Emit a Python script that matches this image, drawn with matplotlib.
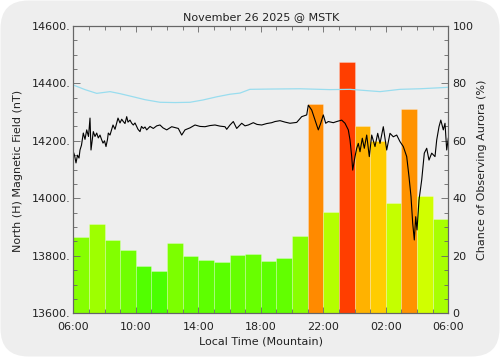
import numpy as np
import matplotlib
matplotlib.use("Agg")
import matplotlib.pyplot as plt
import matplotlib.colors as mcolors
from matplotlib.patches import FancyBboxPatch
from matplotlib.transforms import IdentityTransform

# hours after 06:00 local time
mag_hours = [0.000, 0.077, 0.173, 0.269, 0.365, 0.429, 0.525, 0.640, 0.749, 0.858,
             0.973, 1.069, 1.133, 1.280, 1.389, 1.498, 1.600, 1.709, 1.805, 1.901,
             1.997, 2.093, 2.189, 2.240, 2.349, 2.541, 2.669, 2.861, 2.989, 3.098,
             3.200, 3.309, 3.418, 3.501, 3.629, 3.738, 3.840, 3.949, 4.058, 4.141,
             4.269, 4.365, 4.480, 4.589, 4.698, 4.909, 5.120, 5.338, 5.549, 5.741,
             5.978, 6.298, 6.720, 6.938, 7.149, 7.469, 7.789, 8.109, 8.429, 8.749,
             9.069, 9.389, 9.709, 9.818, 10.029, 10.240, 10.458, 10.778, 10.989, 11.200,
             11.520, 11.757, 12.058, 12.378, 12.698, 12.909, 13.229, 13.549, 13.869, 14.298,
             14.618, 14.938, 15.040, 15.258, 15.469, 15.680, 15.834, 16.000, 16.154, 16.320,
             16.640, 16.858, 17.178, 17.389, 17.600, 17.709, 17.818, 17.882, 18.029, 18.138,
             18.240, 18.349, 18.496, 18.624, 18.778, 18.944, 19.098, 19.309, 19.482, 19.629,
             19.840, 20.058, 20.269, 20.480, 20.698, 20.909, 21.120, 21.338, 21.485, 21.613,
             21.722, 21.824, 21.914, 21.997, 22.125, 22.298, 22.464, 22.618, 22.765, 22.938,
             23.149, 23.258, 23.405, 23.520, 23.680, 23.789, 23.898, 24.000]
mag_nt = [14162, 14150, 14123, 14150, 14140, 14168, 14185, 14227, 14205, 14238,
          14215, 14279, 14168, 14232, 14215, 14227, 14210, 14220, 14205, 14192,
          14200, 14180, 14205, 14227, 14220, 14255, 14240, 14279, 14262, 14275,
          14267, 14260, 14284, 14265, 14272, 14261, 14255, 14262, 14249, 14240,
          14232, 14250, 14243, 14248, 14238, 14250, 14243, 14252, 14255, 14245,
          14238, 14249, 14243, 14220, 14238, 14245, 14255, 14250, 14249, 14253,
          14255, 14251, 14249, 14240, 14255, 14267, 14243, 14261, 14252, 14255,
          14263, 14257, 14255, 14260, 14263, 14267, 14270, 14265, 14261, 14264,
          14284, 14290, 14324, 14307, 14272, 14238, 14261, 14290, 14261, 14267,
          14263, 14267, 14272, 14261, 14238, 14203, 14145, 14098, 14145, 14174,
          14191, 14162, 14209, 14174, 14220, 14145, 14220, 14180, 14226, 14191,
          14249, 14168, 14226, 14214, 14220, 14197, 14180, 14145, 14075, 14006,
          13913, 13855, 13936, 13890, 13994, 14064, 14157, 14174, 14133, 14157,
          14145, 14203, 14249, 14272, 14238, 14261, 14168, 14209]

base_hours = [0, 0.75, 1.50, 2.35, 2.99, 3.84, 4.59, 5.55, 6.51, 7.47, 8.30, 9.18,
              10.03, 10.67, 11.30, 12.58, 14.5, 16.42, 17.71, 18.67, 19.63, 20.91, 22.19, 24]
base_nt = [14394, 14378, 14365, 14371, 14364, 14353, 14343, 14334, 14333, 14334, 14342, 14353,
           14362, 14366, 14379, 14380, 14381, 14378, 14379, 14375, 14371, 14379, 14381, 14386]

# chance of observing aurora, one value per hour
aurora_pct = [26.4, 30.9, 25.4, 22.0, 16.4, 14.6, 24.4, 19.9, 18.4, 17.9, 20.3, 20.7,
              18.1, 19.2, 26.8, 72.7, 35.3, 87.5, 65.2, 59.9, 38.3, 71.2, 40.8, 32.9]

xtick_labels = ["06:00", "10:00", "14:00", "18:00", "22:00", "02:00", "06:00"]

bg = "#eeeeee"
txt = "#222222"
plt.rcParams["font.family"] = "DejaVu Sans"
plt.rcParams["font.size"] = 8

fig = plt.figure(figsize=(5, 3.57), dpi=100, facecolor="white")
fig.add_artist(FancyBboxPatch((0.5, 0.5), 499, 356,
                              boxstyle="round,pad=0,rounding_size=28",
                              transform=IdentityTransform(),
                              facecolor=bg, edgecolor="none", zorder=-10))

ax1 = fig.add_axes([73.3 / 500, 1 - 313.3 / 357, 375 / 500, 287.5 / 357])
ax2 = ax1.twinx()
ax1.set_zorder(2)
ax2.set_zorder(1)
ax1.patch.set_visible(False)
ax2.patch.set_visible(False)

cmap = mcolors.LinearSegmentedColormap.from_list("aur", ["#00ff00", "#ffff00", "#ff0000"])
pct = np.array(aurora_pct)
ax2.bar(np.arange(len(pct)), pct, width=1.0, align="edge",
        color=cmap(pct / 100.0), edgecolor=(1, 1, 1, 0.35), linewidth=0.5)
ax2.set_ylim(0, 100)

ax1.plot(base_hours, base_nt, color="#99ddee", lw=0.9)
ax1.plot(mag_hours, mag_nt, color="black", lw=0.8)
ax1.set_xlim(0, 24)
ax1.set_ylim(13600, 14600)

ax1.set_xticks(np.arange(0, 25, 4))
ax1.set_xticks(np.arange(0, 25, 1), minor=True)
ax1.set_xticklabels(xtick_labels)
ax1.set_yticks(np.arange(13600, 14601, 200))
ax1.set_yticks(np.arange(13600, 14601, 50), minor=True)
ax1.set_yticklabels([f"{v}." for v in range(13600, 14601, 200)])
ax2.set_yticks(np.arange(0, 101, 20))
ax2.set_yticks(np.arange(0, 101, 5), minor=True)

ax1.tick_params(axis="x", which="both", direction="in", top=True, bottom=True,
                colors="#666666", labelcolor=txt, pad=6)
ax1.tick_params(axis="x", which="major", length=4, width=0.6)
ax1.tick_params(axis="x", which="minor", length=3, width=0.6)
ax1.tick_params(axis="y", which="both", direction="in", left=True, right=False,
                colors="#666666", labelcolor=txt, pad=2)
ax1.tick_params(axis="y", which="major", length=5, width=0.6)
ax1.tick_params(axis="y", which="minor", length=3, width=0.6)
ax2.tick_params(axis="y", which="both", direction="in", colors="#666666",
                labelcolor=txt, pad=3)
ax2.tick_params(axis="y", which="major", length=5, width=0.6)
ax2.tick_params(axis="y", which="minor", length=3, width=0.6)

for ax in (ax1, ax2):
    for s in ax.spines.values():
        s.set_color("#666666")
        s.set_linewidth(0.8)

fig.text(260.8 / 500, 1 - 17.5 / 357, "November 26 2025 @ MSTK", ha="center", va="center", color=txt)
fig.text(260.8 / 500, 1 - 341 / 357, "Local Time (Mountain)", ha="center", va="center", color=txt)
fig.text(18 / 500, 1 - 171 / 357, "North (H) Magnetic Field (nT)", rotation=90,
         ha="center", va="center", color=txt)
fig.text(482 / 500, 1 - 170 / 357, "Chance of Observing Aurora (%)", rotation=90,
         ha="center", va="center", color=txt)

fig.savefig("out.png", dpi=100)
